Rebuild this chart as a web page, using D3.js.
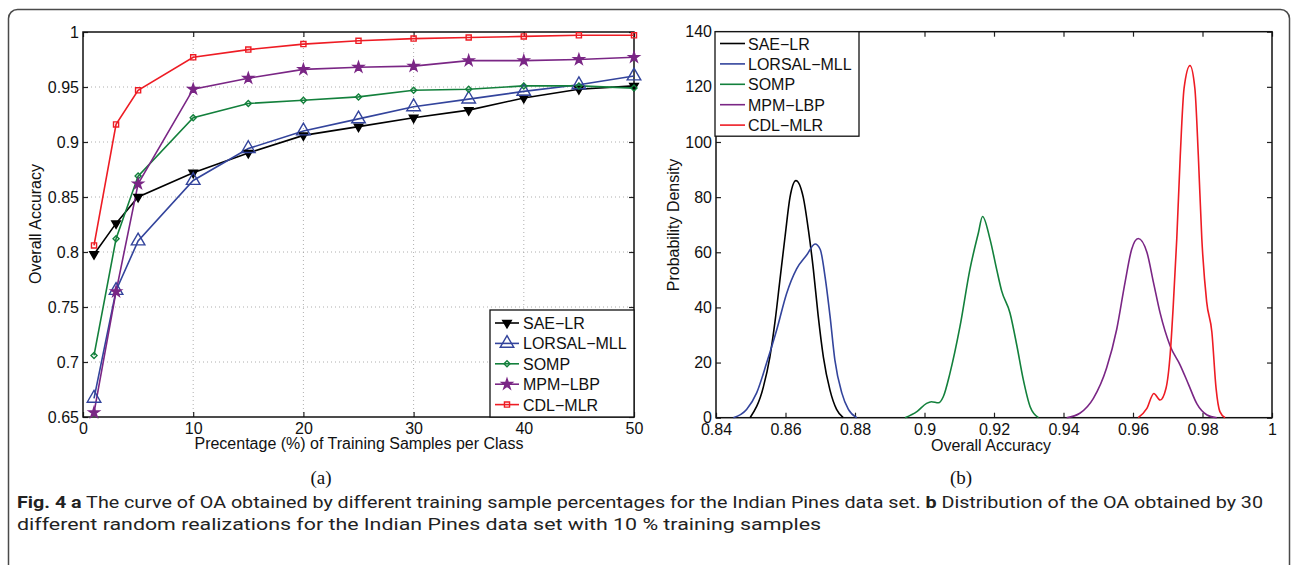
<!DOCTYPE html>
<html>
<head>
<meta charset="utf-8">
<script src="https://cdn.jsdelivr.net/npm/d3@7"></script>
<style>
  body { margin: 0; background: #fff; }
  svg { display: block; }
  text { font-family: "Liberation Sans", Arial, sans-serif; }
</style>
</head>
<body>
<div id="chart"></div>
<script>
// Fig. 4 — OA curves (a) and OA density (b), Indian Pines

// ---- data: panel (a) ----
const trainPct = [1, 3, 5, 10, 15, 20, 25, 30, 35, 40, 45, 50];
const saeLR    = [0.798, 0.826, 0.850, 0.872, 0.890, 0.906, 0.914, 0.922, 0.929, 0.940, 0.948, 0.951];
const lorsal   = [0.667, 0.765, 0.810, 0.865, 0.894, 0.910, 0.921, 0.932, 0.939, 0.946, 0.952, 0.960];
const somp     = [0.706, 0.812, 0.869, 0.922, 0.935, 0.938, 0.941, 0.947, 0.948, 0.951, 0.951, 0.949];
const mpmLBP   = [0.654, 0.764, 0.862, 0.948, 0.958, 0.966, 0.968, 0.969, 0.974, 0.974, 0.975, 0.977];
const cdlMLR   = [0.806, 0.916, 0.947, 0.977, 0.984, 0.989, 0.992, 0.994, 0.995, 0.996, 0.997, 0.997];

const xTicksA = [0, 10, 20, 30, 40, 50];
const yTicksA = [0.65, 0.7, 0.75, 0.8, 0.85, 0.9, 0.95, 1];

// ---- data: panel (b), density curves [OA, density] ----
const saeDens = [[0.8498, 0], [0.8536, 11], [0.8555, 22], [0.857, 35], [0.8584, 50], [0.8599, 66],
  [0.8613, 80], [0.863, 86], [0.8651, 80], [0.8666, 68], [0.868, 54], [0.8694, 37], [0.8709, 22],
  [0.8728, 10], [0.8747, 3], [0.8766, 0]];
const lorsalDens = [[0.845, 0], [0.8488, 3], [0.8517, 9], [0.8546, 20], [0.8575, 32], [0.8603, 45],
  [0.8632, 54], [0.8661, 59], [0.8685, 63], [0.870, 61], [0.8714, 51], [0.8728, 37], [0.8742, 21],
  [0.8762, 9], [0.8781, 3], [0.8805, 0]];
const sompDens = [[0.8944, 0], [0.8978, 2.2], [0.9006, 5.2], [0.902, 5.8], [0.904, 5.4], [0.9054, 7.6],
  [0.9073, 16], [0.9102, 33], [0.9131, 54], [0.9155, 67], [0.9167, 73], [0.9189, 64.5], [0.9208, 53.6],
  [0.9222, 46], [0.9246, 38], [0.9266, 26], [0.9284, 14], [0.9304, 4], [0.9328, 0]];
const mpmDens = [[0.9409, 0], [0.9447, 1.6], [0.9486, 7], [0.9524, 18], [0.9553, 32], [0.9577, 49],
  [0.9596, 61], [0.9615, 65], [0.964, 60], [0.9659, 49], [0.9678, 38], [0.9707, 26], [0.9736, 19],
  [0.976, 12], [0.9784, 5], [0.9813, 1], [0.9841, 0]];
const cdlDens = [[0.9615, 0], [0.964, 3.4], [0.966, 8.8], [0.9678, 6.4], [0.9695, 10.7], [0.9707, 23],
  [0.9716, 41], [0.9726, 65], [0.9736, 95], [0.9747, 119.5], [0.9764, 127.7], [0.9778, 119.5],
  [0.9788, 95], [0.9798, 65], [0.9812, 42], [0.9827, 31], [0.9839, 10.7], [0.985, 2.2], [0.9865, 0]];

const xTicksB = [0.84, 0.86, 0.88, 0.9, 0.92, 0.94, 0.96, 0.98, 1];
const yTicksB = [0, 20, 40, 60, 80, 100, 120, 140];

const methods = ["SAE\u2212LR", "LORSAL\u2212MLL", "SOMP", "MPM\u2212LBP", "CDL\u2212MLR"];
const colors  = ["#000000", "#33449c", "#13803c", "#7a2685", "#ee1c24"];

const W = 1291, H = 565;

const svg = d3.select("#chart").append("svg")
  .attr("width", W)
  .attr("height", H);

// frame round the figure
svg.append("rect")
  .attr("x", 8.5).attr("y", 9.5)
  .attr("width", 1281).attr("height", 580)
  .attr("rx", 9)
  .attr("fill", "none")
  .attr("stroke", "#4a4a4a")
  .attr("stroke-width", 1.5);

function markerPath(kind) {
  if (kind === "tri-down") return d3.symbol(d3.symbolTriangle, 32)();
  if (kind === "tri-up") return d3.symbol(d3.symbolTriangle, 80)();
  if (kind === "diamond") return d3.symbol(d3.symbolSquare, 18)();
  if (kind === "star") return d3.symbol(d3.symbolStar, 34)();
  return d3.symbol(d3.symbolSquare, 26)();
}
const markerRot = { "tri-down": 180, "diamond": 45 };
const markerFill = { "tri-down": true, "star": true };
const markers = ["tri-down", "tri-up", "diamond", "star", "square"];

function drawFrameAxes(g, x, y, xt, yt, grid) {
  const x0 = x.range()[0], x1 = x.range()[1];
  const y0 = y.range()[0], y1 = y.range()[1];

  if (grid) {
    g.append("g").selectAll("line")
      .data(xt.filter(d => d !== x.domain()[0] && d !== x.domain()[1]))
      .join("line")
      .attr("x1", d => x(d)).attr("x2", d => x(d))
      .attr("y1", y0).attr("y2", y1)
      .attr("stroke", "#9a9a9a").attr("stroke-width", 0.8)
      .attr("stroke-dasharray", "1,3");
    g.append("g").selectAll("line")
      .data(yt.filter(d => d !== y.domain()[0] && d !== y.domain()[1]))
      .join("line")
      .attr("x1", x0).attr("x2", x1)
      .attr("y1", d => y(d)).attr("y2", d => y(d))
      .attr("stroke", "#9a9a9a").attr("stroke-width", 0.8)
      .attr("stroke-dasharray", "1,3");
  }

  const fmt = d => String(+d.toFixed(2));

  const ax = [
    [d3.axisBottom(x).tickValues(xt).tickFormat(fmt), `translate(0,${y0})`, 6],
    [d3.axisTop(x).tickValues(xt).tickFormat(""), `translate(0,${y1})`, 4],
    [d3.axisLeft(y).tickValues(yt).tickFormat(fmt), `translate(${x0},0)`, 4],
    [d3.axisRight(y).tickValues(yt).tickFormat(""), `translate(${x1},0)`, 4]
  ];
  ax.forEach(([a, tr, pad]) => {
    const ga = g.append("g")
      .attr("transform", tr)
      .call(a.tickSizeInner(-5).tickSizeOuter(0).tickPadding(pad));
    ga.select(".domain").remove();
    ga.selectAll(".tick line").attr("stroke", "#222").attr("stroke-width", 1.2);
    ga.selectAll("text")
      .attr("fill", "#111")
      .style("font-size", "16px")
      .style("font-family", "'Liberation Sans', Arial, sans-serif");
  });

  g.append("rect")
    .attr("x", x0).attr("y", y1)
    .attr("width", x1 - x0).attr("height", y0 - y1)
    .attr("fill", "none")
    .attr("stroke", "#111")
    .attr("stroke-width", 1.5);
}

// ---------- panel (a) ----------
function renderPanelA() {
  const x = d3.scaleLinear().domain([0, 50]).range([83, 634]);
  const y = d3.scaleLinear().domain([0.65, 1]).range([417, 32]);
  const g = svg.append("g");

  drawFrameAxes(g, x, y, xTicksA, yTicksA, true);

  const series = [saeLR, lorsal, somp, mpmLBP, cdlMLR];
  const line = d3.line().x((d, i) => x(trainPct[i])).y(d => y(d));

  series.forEach((vals, k) => {
    g.append("path")
      .datum(vals)
      .attr("d", line)
      .attr("fill", "none")
      .attr("stroke", colors[k])
      .attr("stroke-width", 1.6);
  });
  series.forEach((vals, k) => {
    const m = markers[k];
    g.append("g").selectAll("path")
      .data(vals)
      .join("path")
      .attr("d", markerPath(m))
      .attr("transform", (d, i) => `translate(${x(trainPct[i])},${y(d)}) rotate(${markerRot[m] || 0})`)
      .attr("fill", markerFill[m] ? colors[k] : "none")
      .attr("stroke", colors[k])
      .attr("stroke-width", 1.4);
  });

  // legend, lower right
  const lg = g.append("g");
  lg.append("rect")
    .attr("x", 490).attr("y", 310)
    .attr("width", 144).attr("height", 107)
    .attr("fill", "#fff").attr("stroke", "#111").attr("stroke-width", 1.3);
  methods.forEach((name, k) => {
    const ly = 323 + k * 20.4;
    lg.append("line")
      .attr("x1", 495).attr("x2", 519).attr("y1", ly).attr("y2", ly)
      .attr("stroke", colors[k]).attr("stroke-width", 1.6);
    lg.append("path")
      .attr("d", markerPath(markers[k]))
      .attr("transform", `translate(507,${ly}) rotate(${markerRot[markers[k]] || 0})`)
      .attr("fill", markerFill[markers[k]] ? colors[k] : "none")
      .attr("stroke", colors[k]).attr("stroke-width", 1.4);
    lg.append("text")
      .attr("x", 523).attr("y", ly + 6)
      .style("font-size", "16px")
      .attr("fill", "#111")
      .text(name);
  });

  g.append("text")
    .attr("transform", "translate(41,224) rotate(-90)")
    .attr("text-anchor", "middle")
    .style("font-size", "16px")
    .attr("fill", "#111")
    .text("Overall Accuracy");

  g.append("text")
    .attr("x", 359).attr("y", 449)
    .attr("text-anchor", "middle")
    .style("font-size", "16px")
    .attr("fill", "#111")
    .text("Precentage (%) of Training Samples per Class");
}

// ---------- panel (b) ----------
function renderPanelB() {
  const x = d3.scaleLinear().domain([0.84, 1]).range([716, 1272]);
  const y = d3.scaleLinear().domain([0, 140]).range([417.7, 31.7]);
  const g = svg.append("g");

  drawFrameAxes(g, x, y, xTicksB, yTicksB, false);

  const line = d3.line()
    .x(d => x(d[0]))
    .y(d => y(d[1]))
    .curve(d3.curveMonotoneX);

  [saeDens, lorsalDens, sompDens, mpmDens, cdlDens].forEach((pts, k) => {
    g.append("path")
      .datum(pts)
      .attr("d", line)
      .attr("fill", "none")
      .attr("stroke", colors[k])
      .attr("stroke-width", 1.6);
  });

  // legend, upper left
  const lg = g.append("g");
  lg.append("rect")
    .attr("x", 715).attr("y", 31.7)
    .attr("width", 144).attr("height", 104.5)
    .attr("fill", "#fff").attr("stroke", "#111").attr("stroke-width", 1.3);
  methods.forEach((name, k) => {
    const ly = 43.5 + k * 20.4;
    lg.append("line")
      .attr("x1", 720).attr("x2", 745).attr("y1", ly).attr("y2", ly)
      .attr("stroke", colors[k]).attr("stroke-width", 1.6);
    lg.append("text")
      .attr("x", 748).attr("y", ly + 6)
      .style("font-size", "16px")
      .attr("fill", "#111")
      .text(name);
  });

  g.append("text")
    .attr("transform", "translate(679,225) rotate(-90)")
    .attr("text-anchor", "middle")
    .style("font-size", "16px")
    .attr("fill", "#111")
    .text("Probability Density");

  g.append("text")
    .attr("x", 991).attr("y", 451)
    .attr("text-anchor", "middle")
    .style("font-size", "16px")
    .attr("fill", "#111")
    .text("Overall Accuracy");
}

renderPanelA();
renderPanelB();

// sub-labels
[["(a)", 321], ["(b)", 961]].forEach(([t, cx]) => {
  svg.append("text")
    .attr("x", cx).attr("y", 484)
    .attr("text-anchor", "middle")
    .style("font-family", "'Liberation Serif', 'Times New Roman', serif")
    .style("font-size", "19px")
    .attr("fill", "#111")
    .text(t);
});

// caption
const capFont = "Roboto, 'Noto Sans', sans-serif";
const cap1 = svg.append("text")
  .attr("x", 17).attr("y", 508)
  .attr("textLength", 1246).attr("lengthAdjust", "spacingAndGlyphs")
  .style("font-family", capFont)
  .style("font-size", "16px")
  .attr("fill", "#222");
cap1.append("tspan").style("font-weight", "bold").text("Fig. 4 a");
cap1.append("tspan").text(" The curve of OA obtained by different training sample percentages for the Indian Pines data set. ");
cap1.append("tspan").style("font-weight", "bold").text("b");
cap1.append("tspan").text(" Distribution of the OA obtained by 30");

svg.append("text")
  .attr("x", 17).attr("y", 530)
  .attr("textLength", 804).attr("lengthAdjust", "spacingAndGlyphs")
  .style("font-family", capFont)
  .style("font-size", "16px")
  .attr("fill", "#222")
  .text("different random realizations for the Indian Pines data set with 10 % training samples");
</script>
</body>
</html>
